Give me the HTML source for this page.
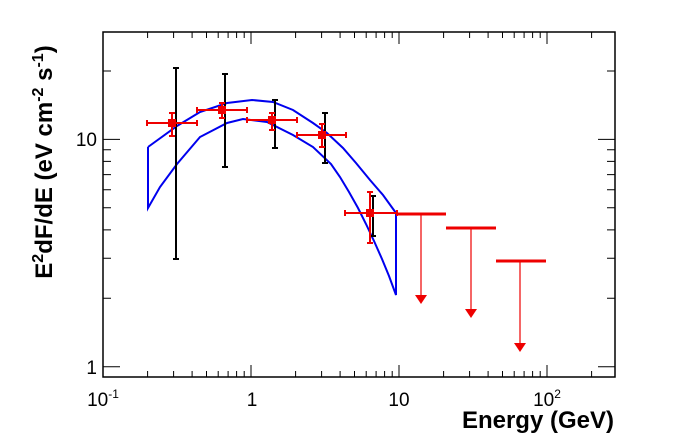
<!DOCTYPE html><html><head><style>body{margin:0;background:#fff}svg{display:block}</style></head><body>
<svg width="692" height="444" xmlns="http://www.w3.org/2000/svg" font-family="Liberation Sans, Arial, sans-serif">
<rect width="692" height="444" fill="#fff"/>
<path stroke="#000" stroke-width="1" fill="none" d="
M147.6,377v-6M173.6,377v-6M192.1,377v-6M206.5,377v-6M218.2,377v-6M228.1,377v-6M236.6,377v-6M244.2,377v-6M251,377v-12
M295.6,377v-6M321.6,377v-6M340.1,377v-6M354.5,377v-6M366.2,377v-6M376.1,377v-6M384.6,377v-6M392.2,377v-6M399,377v-12
M443.6,377v-6M469.6,377v-6M488.1,377v-6M502.5,377v-6M514.2,377v-6M524.1,377v-6M532.6,377v-6M540.2,377v-6M547,377v-12M591.6,377v-6
M147.6,32v6M173.6,32v6M192.1,32v6M206.5,32v6M218.2,32v6M228.1,32v6M236.6,32v6M244.2,32v6M251,32v12
M295.6,32v6M321.6,32v6M340.1,32v6M354.5,32v6M366.2,32v6M376.1,32v6M384.6,32v6M392.2,32v6M399,32v12
M443.6,32v6M469.6,32v6M488.1,32v6M502.5,32v6M514.2,32v6M524.1,32v6M532.6,32v6M540.2,32v6M547,32v12M591.6,32v6
M103,366.7h17M103,298.3h8M103,258.3h8M103,229.9h8M103,207.8h8M103,189.8h8M103,174.6h8M103,161.4h8M103,149.8h8M103,139.4h17M103,71h8
M615,366.7h-17M615,298.3h-8M615,258.3h-8M615,229.9h-8M615,207.8h-8M615,189.8h-8M615,174.6h-8M615,161.4h-8M615,149.8h-8M615,139.4h-17M615,71h-8"/>
<rect x="103" y="32" width="512" height="345" fill="none" stroke="#000" stroke-width="1.5"/>
<g fill="none" stroke="#0000ee" stroke-width="2">
<polyline points="148,147 177,126 200,112 227,103 252,100 273,102 293,110 313,123 327,133 343,148 356,163 370,180 383,195 396,213 396,295 389,276 382,259 374,241 366,224 358,208 349,192 340,177 331,164 313,147 293,135 267,122 243,119 227,123 200,137 177,164 160,187 148,208 148,147"/>
</g>
<g stroke="#000" stroke-width="2">
<line x1="176" y1="68" x2="176" y2="259"/><line x1="173" y1="68" x2="179" y2="68"/><line x1="173" y1="259" x2="179" y2="259"/>
<line x1="225" y1="74" x2="225" y2="167"/><line x1="222" y1="74" x2="228" y2="74"/><line x1="222" y1="167" x2="228" y2="167"/>
<line x1="275" y1="100" x2="275" y2="148"/><line x1="272" y1="100" x2="278" y2="100"/><line x1="272" y1="148" x2="278" y2="148"/>
<line x1="325" y1="113" x2="325" y2="163"/><line x1="322" y1="113" x2="328" y2="113"/><line x1="322" y1="163" x2="328" y2="163"/>
<line x1="373" y1="196" x2="373" y2="236"/><line x1="370" y1="196" x2="376" y2="196"/><line x1="370" y1="236" x2="376" y2="236"/>
</g>
<g stroke="#ee0000" stroke-width="2" fill="#ee0000">
<path fill="none" d="M147,123H197M147,120v6M197,120v6M172,113V136M169,113h6M169,136h6
M197,110H247M197,107v6M247,107v6M222,103V118M219,103h6M219,118h6
M247,120H297M247,117v6M297,117v6M272,113V130M269,113h6M269,130h6
M297,135H346M297,132v6M346,132v6M322,124V147M319,124h6M319,147h6
M345,213H397M345,210v6M397,210v6M370,192V243M367,192h6M367,243h6"/>
<rect x="168" y="119" width="8" height="8" stroke="none"/>
<rect x="218" y="106" width="8" height="8" stroke="none"/>
<rect x="268" y="116" width="8" height="8" stroke="none"/>
<rect x="318" y="131" width="8" height="8" stroke="none"/>
<rect x="366" y="209" width="8" height="8" stroke="none"/>
<line x1="397" y1="214" x2="446" y2="214" stroke-width="3"/><line x1="421" y1="214" x2="421" y2="297" stroke-width="1.2"/><polygon points="415,295 427,295 421,304" stroke="none"/>
<line x1="446" y1="228" x2="496" y2="228" stroke-width="3"/><line x1="471" y1="228" x2="471" y2="311" stroke-width="1.2"/><polygon points="465,309 477,309 471,318" stroke="none"/>
<line x1="496" y1="261" x2="546" y2="261" stroke-width="3"/><line x1="520" y1="261" x2="520" y2="345" stroke-width="1.2"/><polygon points="514,343 526,343 520,352" stroke="none"/>
</g>
<g font-size="19" fill="#000">
<text x="97" y="146" text-anchor="end">10</text>
<text x="97" y="374" text-anchor="end">1</text>
<text x="103" y="406" text-anchor="middle">10<tspan font-size="12" dy="-8">-1</tspan></text>
<text x="252" y="406" text-anchor="middle">1</text>
<text x="399" y="406" text-anchor="middle">10</text>
<text x="547" y="406" text-anchor="middle">10<tspan font-size="12" dy="-8">2</tspan></text>
</g>
<text x="614" y="428" text-anchor="end" font-size="24" font-weight="bold">Energy (GeV)</text>
<text transform="translate(52,162) rotate(-90)" text-anchor="middle" font-size="24" font-weight="bold">E<tspan font-size="16" dy="-9">2</tspan><tspan dy="9">dF/dE (eV cm</tspan><tspan font-size="16" dy="-9">-2</tspan><tspan dy="9"> s</tspan><tspan font-size="16" dy="-9">-1</tspan><tspan dy="9">)</tspan></text>
</svg></body></html>
